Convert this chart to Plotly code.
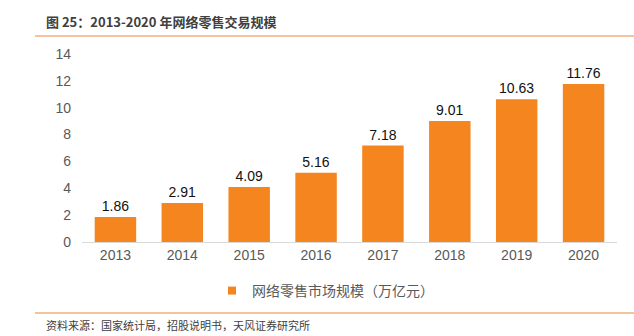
import plotly.graph_objects as go

years = ["2013", "2014", "2015", "2016", "2017", "2018", "2019", "2020"]
values = [1.86, 2.91, 4.09, 5.16, 7.18, 9.01, 10.63, 11.76]
labels = ["1.86", "2.91", "4.09", "5.16", "7.18", "9.01", "10.63", "11.76"]
series_name = "网络零售市场规模（万亿元）"
title_text = "图 25：2013-2020 年网络零售交易规模"
source_text = "资料来源：国家统计局，招股说明书，天风证券研究所"

FONT = "Liberation Sans, Arial, Noto Sans CJK SC, sans-serif"
ORANGE = "#F5851F"

fig = go.Figure()
fig.add_trace(go.Bar(
    x=years, y=values, name=series_name, showlegend=False, legendgroup="s",
    marker=dict(color=ORANGE, line=dict(width=0)),
    text=labels, textposition="outside",
    textfont=dict(size=14, color="#111111", family=FONT),
    cliponaxis=False, width=0.62,
))
# legend entry with a small square marker
fig.add_trace(go.Scatter(
    x=[years[0]], y=[None], mode="markers", name=series_name, legendgroup="s",
    marker=dict(symbol="square", size=8, color=ORANGE), showlegend=True,
))

L, R, T, B = 82, 17, 54, 94
W, H = 634, 336
pw, ph = W - L - R, H - T - B

def px(x):
    return (x - L) / pw

def py(y):
    return (H - B - y) / ph

fig.update_layout(
    width=W, height=H,
    margin=dict(l=L, r=R, t=T, b=B),
    paper_bgcolor="white", plot_bgcolor="white",
    font=dict(family=FONT, color="#595959"),
    showlegend=True,
    legend=dict(orientation="h", x=px(212), xanchor="left", y=py(291), yanchor="middle",
                font=dict(size=14, color="#595959", family="Noto Sans CJK SC, sans-serif"),
                itemwidth=30, bgcolor="rgba(0,0,0,0)"),
    xaxis=dict(showline=True, linecolor="#D9D9D9", linewidth=1, ticks="",
               tickfont=dict(size=14, color="#595959"), showgrid=False),
    yaxis=dict(range=[0, 14], dtick=2, showgrid=False, zeroline=False, showline=False,
               tickfont=dict(size=14, color="#595959"), ticks="", ticklabelstandoff=10),
    bargap=0.38,
    shapes=[
        dict(type="line", xref="paper", yref="paper", x0=px(35), x1=px(634), y0=py(36), y1=py(36),
             line=dict(color="#F4B183", width=1.5)),
        dict(type="line", xref="paper", yref="paper", x0=px(35), x1=px(634), y0=py(313), y1=py(313),
             line=dict(color="#E8883A", width=1.2)),
    ],
    annotations=[
        dict(text=title_text, xref="paper", yref="paper", x=px(44), y=py(22), xanchor="left",
             yanchor="middle", showarrow=False,
             font=dict(size=13, color="#404040", family="Noto Sans CJK SC, sans-serif", weight="bold")),
        dict(text=source_text, xref="paper", yref="paper", x=px(44), y=py(325), xanchor="left",
             yanchor="middle", showarrow=False,
             font=dict(size=11, color="#404040", family="Noto Sans CJK SC, sans-serif")),
    ],
)

fig.write_html("out.html")
